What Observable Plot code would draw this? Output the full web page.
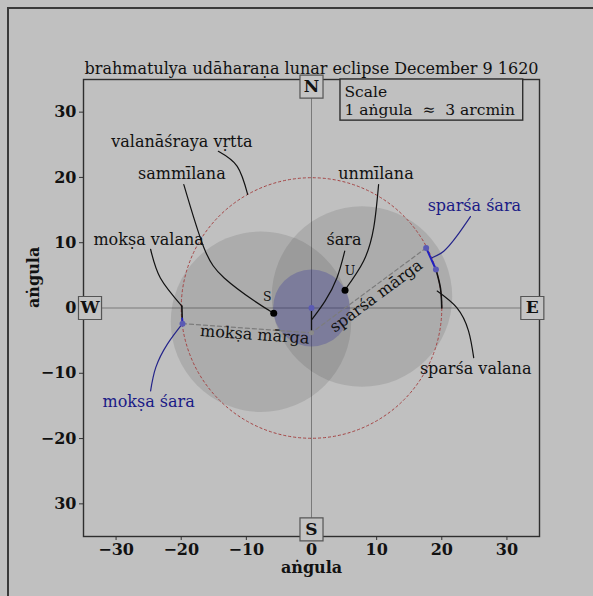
<!DOCTYPE html>
<html>
<head>
<meta charset="utf-8">
<script src="https://cdn.jsdelivr.net/npm/d3@7"></script>
<script src="https://cdn.jsdelivr.net/npm/@observablehq/plot@0.6"></script>
<style>
  html, body { margin: 0; padding: 0; background: #c0c0c0; }
  #wrap { position: relative; width: 593px; height: 596px; overflow: hidden; }
  #edge { position: absolute; left: 7px; top: 7px; width: 600px; height: 600px;
          border-left: 2px solid #3a3a3a; border-top: 2px solid #3a3a3a; pointer-events: none; }
  svg { display: block; }
</style>
</head>
<body>
<div id="wrap"><div id="chart"></div><div id="edge"></div></div>
<script>
// ---------- data ----------
const title = "brahmatulya udāharaṇa lunar eclipse December 9 1620";
const axisLabel = "aṅgula";
const xTicks = [-30, -20, -10, 0, 10, 20, 30];
const yTicks = [-30, -20, -10, 0, 10, 20, 30];
const yTickLabels = ["30", "−20", "−10", "0", "10", "20", "30"];
const xTickLabels = ["−30", "−20", "−10", "0", "10", "20", "30"];

// shaded discs (centre x, centre y, radius in aṅgula)
const discX = [-7.75, 7.75];
const discY = [-2.1, 1.75];
const discR = [13.85, 13.85];
const moonX = 0, moonY = 0, moonR = 5.9;
const vrttaR = 20;

// eclipse points
const sparsaPt = [17.6, 9.2];
const moksaPt = [-19.8, -2.4];
const madhyaPt = [0, -3.8];
const sparsaValanaEnd = [19.1, 5.9];
const moksaValanaEnd = [-19.85, -1.6];
const sammilanaPt = [-5.8, -0.8];
const unmilanaPt = [5.15, 2.7];

// valana arcs along the valanāśraya circle
const sparsaValanaArc = [[20, 0], [19.8, 3.0], [19.1, 5.9]];
const moksaValanaArc = [[-19.9, 0.3], [-19.85, -1.6]];

// compass letters
const compassText = ["N", "S", "W", "E"];
const compassX = [0, 0, -34.0, 33.9];
const compassY = [33.9, -33.9, 0, 0];

// annotation labels
const labelText = ["valanāśraya vṛtta", "sammīlana", "mokṣa valana", "mokṣa mārga", "śara", "unmīlana",
                   "sparśa śara", "sparśa mārga", "sparśa valana", "mokṣa śara"];
const labelX = [-19.9, -19.9, -25.0, -8.7, 5.0, 9.9, 25.0, 9.94, 25.2, -25.0];
const labelY = [25.5, 20.5, 10.5, -4.1, 10.5, 20.5, 15.6, 1.83, -9.3, -14.4];
const labelColor = ["#111", "#111", "#111", "#111", "#111", "#111",
                    "#1a1a86", "#111", "#111", "#1a1a86"];
const labelRotate = [0, 0, 0, 4, 0, 0, 0, -36.5, 0, 0];

// leader curves
const blackLeaders = [
  [[-14.3, 24.0], [-11.4, 21.7], [-9.8, 17.4]],
  [[-19.6, 18.9], [-16.5, 9.2], [-13.4, 4.6], [-8.8, 1.1], [-5.8, -0.8]],
  [[-24.7, 9.0], [-23.2, 4.6], [-19.9, 0.3]],
  [[10.3, 18.9], [9.55, 12.3], [8.0, 7.2], [5.2, 2.85]],
  [[5.1, 8.7], [3.9, 4.6], [2.1, 1.1], [0.1, -1.7]],
  [[24.9, -7.6], [24.1, -3.5], [22.3, 0.05], [19.3, 2.6]]
];
const blueLeaders = [
  [[24.4, 14.0], [22.3, 11.0], [20.3, 8.7], [18.5, 7.7]],
  [[-24.7, -12.7], [-23.9, -9.1], [-22.1, -5.5], [-19.8, -2.4]]
];

// scale box
const scaleLines = ["Scale", "1 aṅgula  ≈  3 arcmin"];
const scaleLineY = [33.1, 30.4];
const scaleBox = {x1: 4.45, x2: 32.5, y1: 28.7, y2: 35};

// ---------- layout ----------
const W = 593, H = 596, mL = 83, mR = 54, mT = 79, mB = 60;
const pxPerUnit = (W - mL - mR) / 70;
const font = "DejaVu Serif";

const flatten = (lines) => lines.flatMap((pts, k) => pts.map(p => ({id: k, x: p[0], y: p[1]})));
const discs = discX.map((x, i) => ({x, y: discY[i], r: discR[i]}));
const labels = labelText.map((t, i) => ({t, x: labelX[i], y: labelY[i], c: labelColor[i], rot: labelRotate[i]}));
const compass = compassText.map((t, i) => ({t, x: compassX[i], y: compassY[i]}));
const px = d => d[0], py = d => d[1];

const chart = Plot.plot({
  width: W, height: H,
  marginLeft: mL, marginRight: mR, marginTop: mT, marginBottom: mB,
  x: {domain: [-35, 35]},
  y: {domain: [-35, 35]},
  r: {type: "linear", domain: [0, 1], range: [0, pxPerUnit]},
  style: {background: "transparent", fontFamily: font, fontSize: "14px", color: "#111"},
  marks: [
    Plot.axisX({ticks: xTicks, tickFormat: (d) => xTickLabels[xTicks.indexOf(d)], tickSize: 4, tickPadding: 3,
                fontWeight: "bold", fontSize: 16, label: null, stroke: "#333"}),
    Plot.axisY({ticks: yTicks, tickFormat: (d) => yTickLabels[yTicks.indexOf(d)], tickSize: 4, tickPadding: 3,
                fontWeight: "bold", fontSize: 16, label: null, stroke: "#333"}),
    Plot.ruleX([0], {stroke: "#7a7a7a", strokeWidth: 1}),
    Plot.ruleY([0], {stroke: "#7a7a7a", strokeWidth: 1}),
    // shaded discs
    Plot.dot(discs, {x: "x", y: "y", r: "r", fill: "#202020", fillOpacity: 0.12, stroke: null}),
    Plot.dot([{x: moonX, y: moonY, r: moonR}], {x: "x", y: "y", r: "r", fill: "#35359a", fillOpacity: 0.3, stroke: null}),
    // valanāśraya vṛtta
    Plot.dot([{x: 0, y: 0, r: vrttaR}], {x: "x", y: "y", r: "r", fill: "none", stroke: "#a54545", strokeWidth: 1, strokeDasharray: "3,2"}),
    // mārga dashed lines
    Plot.line([sparsaPt, madhyaPt], {x: px, y: py, stroke: "#7c7c7c", strokeWidth: 1.2, strokeDasharray: "4,3"}),
    Plot.line([moksaPt, madhyaPt], {x: px, y: py, stroke: "#7c7c7c", strokeWidth: 1.2, strokeDasharray: "4,3"}),
    // śara at mid eclipse
    Plot.line([[0, 0], madhyaPt], {x: px, y: py, stroke: "#111", strokeWidth: 1.3}),
    // valana arcs
    Plot.line(sparsaValanaArc, {x: px, y: py, curve: "natural", stroke: "#111", strokeWidth: 1.6}),
    Plot.line(moksaValanaArc, {x: px, y: py, stroke: "#111", strokeWidth: 1.6}),
    // śara segments (blue)
    Plot.line([sparsaPt, sparsaValanaEnd], {x: px, y: py, stroke: "#2020c0", strokeWidth: 2}),
    Plot.line([moksaPt, moksaValanaEnd], {x: px, y: py, stroke: "#2020c0", strokeWidth: 2}),
    // leaders
    Plot.line(flatten(blackLeaders), {x: "x", y: "y", z: "id", curve: "natural", stroke: "#111", strokeWidth: 1.2}),
    Plot.line(flatten(blueLeaders), {x: "x", y: "y", z: "id", curve: "natural", stroke: "#24248a", strokeWidth: 1.2}),
    // points
    Plot.dot([sparsaPt, sparsaValanaEnd, moksaPt, [moonX, moonY]], {x: px, y: py, r: 3, fill: "#5a5ab4", stroke: null}),
    Plot.dot([madhyaPt], {x: px, y: py, r: 2.5, fill: "#8a8a8a", stroke: null}),
    Plot.dot([sammilanaPt, unmilanaPt], {x: px, y: py, r: 3.5, fill: "#000", stroke: null}),
    Plot.text([{t: "S", x: -6.8, y: 1.7}, {t: "U", x: 5.9, y: 5.6}], {x: "x", y: "y", text: "t", fontSize: 12.5, fill: "#111"}),
    // labels
    Plot.text(labels, {x: "x", y: "y", text: "t", fill: "c", rotate: "rot", fontSize: 16}),
    // frame
    Plot.frame({stroke: "#2e2e2e", strokeWidth: 1.4}),
    // scale box
    Plot.rect([scaleBox], {x1: "x1", x2: "x2", y1: "y1", y2: "y2", fill: "#c0c0c0", stroke: "#2e2e2e", strokeWidth: 1.4}),
    Plot.text(scaleLines, {x: 5.06, y: (d, i) => scaleLineY[i], text: d => d, textAnchor: "start", fontSize: 15.5}),
    // compass boxes
    Plot.dot(compass, {x: "x", y: "y", symbol: "square", r: 13, fill: "#c4c4c4", stroke: "#555", strokeWidth: 1.2}),
    Plot.text(compass, {x: "x", y: "y", text: "t", fontSize: 17, fontWeight: "bold", fill: "#111"}),
    // title and axis labels
    Plot.text([title], {frameAnchor: "top", lineAnchor: "middle", dy: -11, text: d => d, fontSize: 16, fill: "#111"}),
    Plot.text([axisLabel], {frameAnchor: "bottom", lineAnchor: "middle", dy: 31, text: d => d, fontSize: 16, fontWeight: "bold", fill: "#111"}),
    Plot.text([axisLabel], {frameAnchor: "left", lineAnchor: "middle", dx: -50, rotate: -90, text: d => d, fontSize: 16, fontWeight: "bold", fill: "#111"})
  ]
});
document.getElementById("chart").appendChild(chart);
</script>
</body>
</html>
